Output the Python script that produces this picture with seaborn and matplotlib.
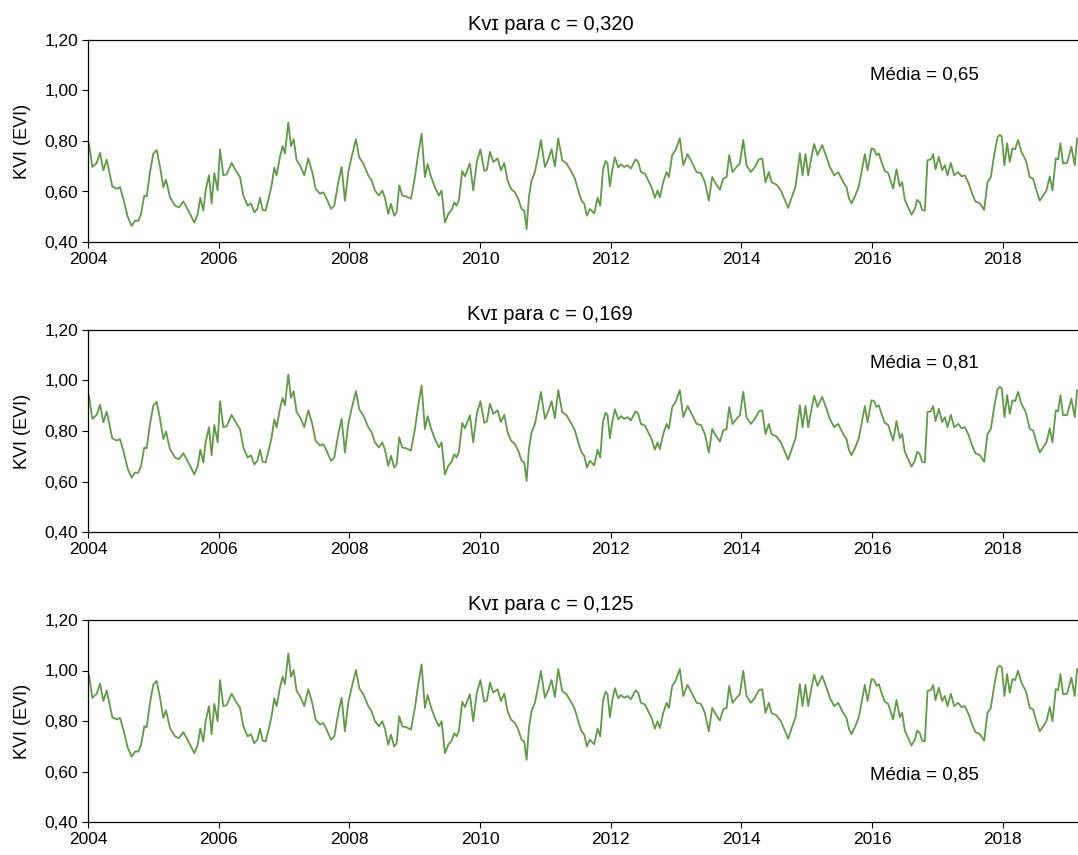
import numpy as np
import pandas as pd
import matplotlib
matplotlib.use("Agg")
import matplotlib.pyplot as plt
from matplotlib.ticker import FuncFormatter
import seaborn as sns

# ---- data ----
# decimal years of the samples
years = [
    2004.015, 2004.066, 2004.133, 2004.184, 2004.235, 2004.286, 2004.372, 2004.439, 2004.490, 2004.541,
    2004.607, 2004.668, 2004.719, 2004.770, 2004.811, 2004.862, 2004.898, 2004.949, 2005.000, 2005.051,
    2005.102, 2005.153, 2005.193, 2005.255, 2005.331, 2005.392, 2005.459, 2005.510, 2005.576, 2005.627,
    2005.678, 2005.719, 2005.765, 2005.800, 2005.851, 2005.892, 2005.933, 2005.984, 2006.020, 2006.071,
    2006.122, 2006.198, 2006.259, 2006.326, 2006.377, 2006.443, 2006.494, 2006.545, 2006.591, 2006.632,
    2006.672, 2006.718, 2006.769, 2006.810, 2006.851, 2006.887, 2006.937, 2006.978, 2007.014, 2007.065,
    2007.106, 2007.147, 2007.192, 2007.244, 2007.310, 2007.371, 2007.432, 2007.483, 2007.550, 2007.601,
    2007.652, 2007.718, 2007.769, 2007.830, 2007.881, 2007.932, 2007.983, 2008.034, 2008.100, 2008.151,
    2008.213, 2008.289, 2008.340, 2008.391, 2008.452, 2008.503, 2008.544, 2008.595, 2008.636, 2008.687,
    2008.723, 2008.763, 2008.809, 2008.875, 2008.942, 2009.003, 2009.054, 2009.105, 2009.156, 2009.197,
    2009.248, 2009.309, 2009.370, 2009.411, 2009.462, 2009.513, 2009.564, 2009.605, 2009.641, 2009.676,
    2009.727, 2009.768, 2009.844, 2009.895, 2009.950, 2010.005, 2010.064, 2010.105, 2010.151, 2010.202,
    2010.268, 2010.319, 2010.370, 2010.421, 2010.472, 2010.533, 2010.584, 2010.635, 2010.676, 2010.712,
    2010.747, 2010.788, 2010.839, 2010.890, 2010.931, 2010.992, 2011.043, 2011.094, 2011.145, 2011.196,
    2011.257, 2011.323, 2011.400, 2011.451, 2011.502, 2011.553, 2011.594, 2011.635, 2011.681, 2011.747,
    2011.798, 2011.839, 2011.880, 2011.920, 2011.951, 2011.987, 2012.022, 2012.063, 2012.114, 2012.155,
    2012.206, 2012.257, 2012.308, 2012.379, 2012.420, 2012.461, 2012.522, 2012.573, 2012.624, 2012.675,
    2012.716, 2012.751, 2012.803, 2012.854, 2012.889, 2012.940, 2012.991, 2013.057, 2013.109, 2013.175,
    2013.246, 2013.313, 2013.379, 2013.440, 2013.501, 2013.552, 2013.603, 2013.670, 2013.721, 2013.772,
    2013.812, 2013.863, 2013.924, 2013.975, 2014.027, 2014.077, 2014.144, 2014.205, 2014.266, 2014.317,
    2014.368, 2014.419, 2014.460, 2014.537, 2014.603, 2014.664, 2014.715, 2014.766, 2014.827, 2014.894,
    2014.934, 2014.980, 2015.021, 2015.072, 2015.113, 2015.164, 2015.235, 2015.301, 2015.352, 2015.419,
    2015.480, 2015.557, 2015.608, 2015.643, 2015.684, 2015.735, 2015.796, 2015.837, 2015.888, 2015.929,
    2015.990, 2016.031, 2016.066, 2016.102, 2016.143, 2016.194, 2016.245, 2016.321, 2016.372, 2016.423,
    2016.459, 2016.500, 2016.551, 2016.602, 2016.653, 2016.689, 2016.730, 2016.765, 2016.806, 2016.847,
    2016.898, 2016.934, 2016.969, 2017.020, 2017.071, 2017.112, 2017.153, 2017.204, 2017.255, 2017.316,
    2017.367, 2017.418, 2017.479, 2017.530, 2017.581, 2017.648, 2017.714, 2017.765, 2017.816, 2017.867,
    2017.918, 2017.954, 2017.984, 2018.024, 2018.065, 2018.106, 2018.147, 2018.188, 2018.233, 2018.284,
    2018.351, 2018.412, 2018.463, 2018.514, 2018.565, 2018.616, 2018.667, 2018.718, 2018.759, 2018.810,
    2018.846, 2018.881, 2018.922, 2018.983, 2019.049, 2019.100, 2019.136,
]

# KVI values for c = 0.320 (top panel)
kvi_c320 = [
    0.790, 0.697, 0.713, 0.753, 0.684, 0.726, 0.620, 0.611, 0.617, 0.571,
    0.500, 0.464, 0.484, 0.484, 0.510, 0.584, 0.580, 0.677, 0.750, 0.764,
    0.697, 0.617, 0.647, 0.577, 0.544, 0.537, 0.561, 0.537, 0.504, 0.477,
    0.510, 0.575, 0.524, 0.604, 0.664, 0.553, 0.673, 0.604, 0.767, 0.664,
    0.668, 0.713, 0.684, 0.657, 0.584, 0.544, 0.553, 0.517, 0.531, 0.575,
    0.527, 0.524, 0.577, 0.624, 0.695, 0.664, 0.737, 0.780, 0.751, 0.873,
    0.780, 0.807, 0.724, 0.704, 0.664, 0.731, 0.677, 0.611, 0.591, 0.597,
    0.571, 0.531, 0.544, 0.637, 0.697, 0.564, 0.677, 0.737, 0.807, 0.735,
    0.711, 0.664, 0.644, 0.604, 0.584, 0.604, 0.575, 0.511, 0.551, 0.504,
    0.517, 0.624, 0.584, 0.580, 0.571, 0.657, 0.751, 0.829, 0.657, 0.708,
    0.660, 0.617, 0.584, 0.604, 0.477, 0.511, 0.527, 0.557, 0.544, 0.567,
    0.681, 0.660, 0.711, 0.604, 0.717, 0.767, 0.681, 0.687, 0.757, 0.717,
    0.731, 0.684, 0.713, 0.644, 0.611, 0.597, 0.571, 0.531, 0.524, 0.451,
    0.577, 0.644, 0.677, 0.744, 0.804, 0.697, 0.727, 0.767, 0.700, 0.811,
    0.724, 0.711, 0.677, 0.651, 0.604, 0.564, 0.551, 0.504, 0.531, 0.513,
    0.575, 0.544, 0.684, 0.721, 0.711, 0.620, 0.684, 0.735, 0.695, 0.708,
    0.697, 0.704, 0.691, 0.727, 0.717, 0.677, 0.671, 0.644, 0.617, 0.575,
    0.604, 0.577, 0.637, 0.677, 0.657, 0.744, 0.764, 0.811, 0.704, 0.748,
    0.713, 0.677, 0.673, 0.637, 0.564, 0.657, 0.633, 0.607, 0.651, 0.657,
    0.744, 0.677, 0.697, 0.711, 0.804, 0.704, 0.677, 0.697, 0.727, 0.731,
    0.637, 0.677, 0.637, 0.627, 0.604, 0.567, 0.535, 0.575, 0.620, 0.751,
    0.664, 0.748, 0.664, 0.737, 0.788, 0.744, 0.784, 0.737, 0.697, 0.664,
    0.677, 0.637, 0.617, 0.575, 0.553, 0.580, 0.620, 0.677, 0.748, 0.684,
    0.771, 0.767, 0.744, 0.751, 0.717, 0.681, 0.673, 0.611, 0.688, 0.620,
    0.637, 0.567, 0.537, 0.508, 0.531, 0.567, 0.557, 0.527, 0.524, 0.724,
    0.727, 0.748, 0.688, 0.737, 0.684, 0.704, 0.664, 0.713, 0.664, 0.677,
    0.660, 0.664, 0.631, 0.591, 0.561, 0.553, 0.527, 0.637, 0.657, 0.744,
    0.815, 0.824, 0.817, 0.704, 0.791, 0.717, 0.771, 0.767, 0.804, 0.757,
    0.724, 0.657, 0.651, 0.604, 0.564, 0.584, 0.604, 0.660, 0.604, 0.731,
    0.727, 0.791, 0.711, 0.713, 0.777, 0.704, 0.811,
]

# the three c values (panel titles); KVI shifts by the difference in c
c_values = [0.320, 0.169, 0.125]
c_labels = ["0,320", "0,169", "0,125"]
mean_labels = ["0,65", "0,81", "0,85"]

y_ticks = [0.40, 0.60, 0.80, 1.00, 1.20]
x_ticks = [2004, 2006, 2008, 2010, 2012, 2014, 2016, 2018]

# ---- style ----
sns.set_theme(style="white")
plt.rcParams["font.family"] = ["Liberation Sans", "DejaVu Sans"]

line_color = "#62984a"

fig = plt.figure(figsize=(10.78, 8.55), dpi=100)
W, H = 1078.0, 855.0
ax_left = 88 / W
ax_width = 990 / W
ax_height = 202 / H
ax_bottoms_px = [242, 532, 822]
mean_pos = [(0.845, 0.827), (0.845, 0.837), (0.845, 0.233)]

base = np.array(kvi_c320)
comma = FuncFormatter(lambda v, p: f"{v:.2f}".replace(".", ","))

for i, c in enumerate(c_values):
    ax = fig.add_axes([ax_left, 1 - ax_bottoms_px[i] / H, ax_width, ax_height])
    df = pd.DataFrame({"ano": years, "kvi": base + (c_values[0] - c)})
    sns.lineplot(data=df, x="ano", y="kvi", ax=ax, color=line_color, linewidth=1.3)

    ax.set_xlim(2004, 2019.15)
    ax.set_ylim(0.40, 1.20)
    ax.set_yticks(y_ticks)
    ax.set_xticks(x_ticks)
    ax.yaxis.set_major_formatter(comma)
    ax.xaxis.set_major_formatter(FuncFormatter(lambda v, p: f"{int(round(v))}"))
    ax.tick_params(axis="both", which="both", direction="out", length=4, width=0.8,
                   colors="black", labelsize=12.5, bottom=True, left=True, pad=3)
    for s in ["left", "bottom", "top"]:
        ax.spines[s].set_visible(True)
        ax.spines[s].set_color("black")
        ax.spines[s].set_linewidth(0.9)
    ax.spines["right"].set_visible(False)
    ax.grid(False)
    ax.set_xlabel("")
    ax.set_ylabel("KVI (EVI)", fontsize=13, color="black", labelpad=10)
    ax.set_title(f"K\u1d20\u026a para c = {c_labels[i]}", fontsize=14.5, color="black",
                 pad=7, x=0.467)
    ax.text(mean_pos[i][0], mean_pos[i][1], f"Média = {mean_labels[i]}",
            transform=ax.transAxes, ha="center", va="center", fontsize=13.5, color="black")

fig.savefig("out.png", dpi=100)
